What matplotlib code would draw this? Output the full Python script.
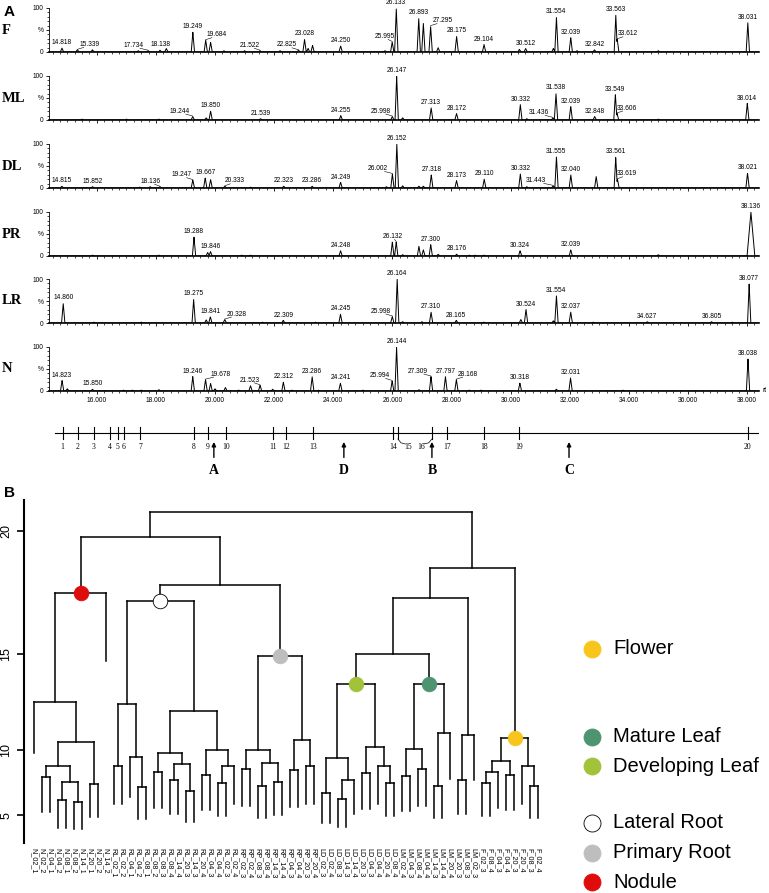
import numpy as np
import matplotlib.pyplot as plt

plt.rcParams['font.family'] = ['Liberation Sans', 'DejaVu Sans']
SERIF = ['Liberation Serif', 'DejaVu Serif']

W, H = 769, 893
fig = plt.figure(figsize=(W / 100, H / 100), dpi=100)


def px_box(x0, y0, x1, y1):
    return [x0 / W, 1 - y1 / H, (x1 - x0) / W, (y1 - y0) / H]


# ============================================================================
# DATOS - CROMATOGRAMAS (tiempo de retención, altura relativa %)
# ============================================================================
RT_MIN, RT_MAX = 14.39, 38.41

f_rt = [14.818, 15.339, 15.85, 17.40, 17.734, 18.138, 18.35, 19.249, 19.684, 19.85, 20.30, 21.0,
        21.522, 22.2, 22.825, 23.028, 23.15, 23.30, 24.250, 25.75, 25.995, 26.133, 26.893, 27.05,
        27.295, 27.55, 28.175, 29.104, 30.30, 30.512, 31.45, 31.554, 32.039, 32.25, 32.842, 33.563,
        33.612, 35.00, 38.031]
f_h = [9, 5, 5, 3, 3, 4, 8, 45, 27, 22, 3, 3, 3, 3, 4, 29, 8, 15, 14, 3, 23, 100, 77, 65, 59, 10,
       36, 17, 6, 8, 8, 79, 33, 3, 5, 84, 29, 3, 67]
f_labels = ['14.818', '15.339', '17.734', '18.138', '19.249', '19.684', '21.522', '22.825', '23.028',
            '24.250', '25.995', '26.133', '26.893', '27.295', '28.175', '29.104', '30.512', '31.554',
            '32.039', '32.842', '33.563', '33.612', '38.031']

ml_rt = [15.5, 17.0, 18.1, 19.244, 19.70, 19.850, 21.539, 24.255, 25.998, 26.147, 26.35, 27.313,
         28.172, 30.332, 30.55, 31.436, 31.538, 32.039, 32.848, 33.549, 33.606, 35.0, 38.014]
ml_h = [2, 2, 2, 8, 5, 20, 3, 10, 8, 100, 5, 28, 15, 35, 3, 5, 61, 31, 8, 58, 15, 2, 38]
ml_labels = ['19.244', '19.850', '21.539', '24.255', '25.998', '26.147', '27.313', '28.172', '30.332',
             '31.436', '31.538', '32.039', '32.848', '33.549', '33.606', '38.014']

dl_rt = [14.815, 15.852, 17.45, 17.8, 18.136, 19.247, 19.667, 19.85, 20.333, 21.2, 22.323, 23.286,
         24.249, 25.8, 26.002, 26.152, 26.35, 26.9, 27.05, 27.318, 28.173, 29.110, 30.332, 30.55,
         31.443, 31.555, 32.040, 32.90, 33.561, 33.619, 38.021]
dl_h = [4, 3, 2, 3, 3, 18, 23, 19, 4, 2, 4, 4, 13, 3, 32, 100, 5, 4, 4, 30, 17, 20, 32, 3, 5, 71,
        30, 26, 70, 20, 34]
dl_labels = ['14.815', '15.852', '18.136', '19.247', '19.667', '20.333', '22.323', '23.286', '24.249',
             '26.002', '26.152', '27.318', '28.173', '29.110', '30.332', '31.443', '31.555', '32.040',
             '33.561', '33.619', '38.021']

pr_rt = [15.85, 18.1, 19.288, 19.75, 19.846, 20.9, 21.2, 24.248, 26.0, 26.132, 26.35, 26.9, 27.05,
         27.300, 27.55, 28.176, 28.6, 28.8, 29.1, 30.324, 32.039, 35.0, 38.136]
pr_h = [2, 2, 43, 8, 10, 2, 2, 12, 32, 32, 3, 22, 14, 26, 4, 4, 2, 2, 2, 12, 14, 3, 100]
pr_labels = ['19.288', '19.846', '24.248', '26.132', '27.300', '28.176', '30.324', '32.039', '38.136']

lr_rt = [14.860, 15.9, 17.5, 19.275, 19.70, 19.841, 20.328, 21.6, 22.309, 23.4, 24.245, 25.998,
         26.164, 26.35, 27.0, 27.310, 28.165, 29.1, 30.35, 30.524, 31.45, 31.554, 32.037, 32.8,
         34.627, 36.805, 37.5, 38.077]
lr_h = [45, 2, 2, 54, 7, 14, 8, 2, 6, 2, 20, 15, 100, 3, 3, 25, 6, 2, 8, 31, 5, 62, 25, 2, 3, 3, 2, 89]
lr_labels = ['14.860', '19.275', '19.841', '20.328', '22.309', '24.245', '25.998', '26.164', '27.310',
             '28.165', '30.524', '31.554', '32.037', '34.627', '36.805', '38.077']

n_rt = [14.823, 15.0, 15.850, 16.9, 17.2, 17.5, 18.1, 19.246, 19.678, 19.85, 20.0, 20.35, 20.8, 21.2,
        21.523, 21.95, 22.312, 22.6, 23.286, 23.5, 24.241, 25.0, 25.994, 26.144, 26.9, 27.309,
        27.797, 28.168, 28.6, 29.0, 30.318, 31.55, 32.031, 33.8, 38.038]
n_h = [24, 5, 4, 2, 2, 2, 3, 33, 26, 17, 5, 8, 2, 12, 13, 4, 20, 2, 33, 2, 18, 2, 23, 100, 3, 33,
       33, 26, 2, 2, 18, 4, 30, 2, 73]
n_labels = ['14.823', '15.850', '19.246', '19.678', '21.523', '22.312', '23.286', '24.241', '25.994',
            '26.144', '27.309', '27.797', '28.168', '30.318', '32.031', '38.038']

panel_names = ['F', 'ML', 'DL', 'PR', 'LR', 'N']

# desplazamiento de etiquetas (min) donde van con línea guía
label_shift = {
    'F': {'15.339': 0.4, '17.734': -0.5, '19.684': 0.38, '21.522': -0.35, '22.825': -0.4,
          '25.995': -0.25, '27.295': 0.4, '33.612': 0.35},
    'ML': {'19.244': -0.43, '25.998': -0.4, '31.436': -0.48, '33.606': 0.35},
    'DL': {'18.136': -0.33, '19.247': -0.38, '20.333': 0.33, '26.002': -0.48, '31.443': -0.58,
           '33.619': 0.32},
    'PR': {'26.132': -0.1},
    'LR': {'20.328': 0.41, '25.998': -0.4},
    'N': {'19.678': 0.5, '21.523': -0.35, '25.994': -0.4, '27.309': -0.44, '28.168': 0.39},
}
peak_width = {'PR': {38.136: 0.13}}

# marcadores 1-20 y flechas A-D
marker_rt = [14.84, 15.36, 15.90, 16.44, 16.71, 16.91, 17.46, 19.28, 19.76, 20.36, 21.96, 22.40,
             23.31, 26.02, 26.19, 27.34, 27.85, 29.10, 30.29, 38.03]
marker_lab_shift = {15: 0.34, 16: -0.37}
arrow_rt = [19.96, 27.34, 31.98, 24.36]
arrow_lab = ['A', 'B', 'C', 'D']

# ============================================================================
# DATOS - DENDROGRAMA
# ============================================================================
leaf_labels = [
    'N_02_1', 'N_02_2', 'N_04_1', 'N_04_2', 'N_08_1', 'N_08_2', 'N_14_1', 'N_20_1', 'N_20_2', 'N_14_2',
    'RL_02_1', 'RL_02_2', 'RL_04_1', 'RL_04_2', 'RL_08_1', 'RL_08_2', 'RL_08_3', 'RL_08_4', 'RL_14_4',
    'RL_20_3', 'RL_14_3', 'RL_20_4', 'RL_04_3', 'RL_04_4', 'RL_02_3', 'RL_02_4',
    'RP_02_3', 'RP_02_4', 'RP_08_3', 'RP_08_4', 'RP_14_3', 'RP_14_4', 'RP_04_3', 'RP_04_4', 'RP_20_3',
    'RP_20_4',
    'LD_02_3', 'LD_02_4', 'LD_08_3', 'LD_14_3', 'LD_14_4', 'LD_20_3', 'LD_04_3', 'LD_04_4', 'LD_20_4',
    'LD_08_4',
    'LM_02_4', 'LM_04_3', 'LM_08_4', 'LM_04_4', 'LM_14_3', 'LM_14_4', 'LM_20_4', 'LM_20_3', 'LM_08_3',
    'LM_02_3',
    'F_02_3', 'F_08_4', 'F_04_3', 'F_04_4', 'F_20_3', 'F_20_4', 'F_08_3', 'F_02_4']

# [altura, izquierda, derecha]; hojas = índice en leaf_labels
n_tree = [17.6, [12.7, 0, [10.5, [9.0, [8.2, 1, 2], [7.9, [6.4, 3, 4], [6.3, 5, 6]]], [7.7, 7, 8]]], 9]
rl_tree = [17.3, [12.6, [9.0, 10, 11], [9.6, 12, [7.5, 13, 14]]],
           [12.2, [9.8, [8.6, 15, 16], [9.1, [8.0, 17, 18], [7.2, 19, 20]]],
            [10.0, [8.4, 21, 22], [9.0, [7.8, 23, 24], 25]]]]
rp_tree = [14.9, [10.0, [8.8, 26, 27], [9.2, [7.6, 28, 29], [7.9, 30, 31]]],
           [10.6, [8.7, 32, 33], [9.0, 34, 35]]]
ld_tree = [13.6, [9.5, [7.0, 36, 37], [8.0, [6.5, 38, 39], 40]],
           [10.2, [8.5, 41, 42], [9.0, 43, [7.8, 44, 45]]]]
lm_tree = [13.6, [10.1, [8.3, 46, 47], [8.8, 48, 49]], [11.0, [7.6, 50, 51], 52]]
lm_out = [10.9, [8.0, 53, 54], 55]
f_tree = [10.7, [9.3, [8.6, [7.8, 56, 57], 58], [8.4, 59, 60]], [9.0, 61, [7.6, 62, 63]]]
root = [20.67, [19.75, n_tree, [17.94, rl_tree, rp_tree]],
        [18.6, [17.4, [15.0, ld_tree, lm_tree], lm_out], f_tree]]

group_names = ['Flower', 'Mature Leaf', 'Developing Leaf', 'Lateral Root', 'Primary Root', 'Nodule']
group_colors = ['#F7C51B', '#4E9470', '#A2C23A', '#FFFFFF', '#BEBEBE', '#E00B0B']
group_trees = [f_tree, lm_tree, ld_tree, rl_tree, rp_tree, n_tree]
HANG = 2.9

# ============================================================================
# PANEL A - CROMATOGRAMAS
# ============================================================================
all_rt = [f_rt, ml_rt, dl_rt, pr_rt, lr_rt, n_rt]
all_h = [f_h, ml_h, dl_h, pr_h, lr_h, n_h]
all_lab = [f_labels, ml_labels, dl_labels, pr_labels, lr_labels, n_labels]
panel_top_px = [8, 76, 144, 212, 279, 347]

xg = np.linspace(RT_MIN, RT_MAX, 8000)
for k, name in enumerate(panel_names):
    y0 = panel_top_px[k]
    ax = fig.add_axes(px_box(49.3, y0, 759, y0 + 44))
    rts, hs = np.array(all_rt[k]), np.array(all_h[k])
    yg = np.zeros_like(xg)
    for rt, h in zip(rts, hs):
        w = peak_width.get(name, {}).get(rt, 0.055)
        yg = np.maximum(yg, h * np.clip(1 - np.abs(xg - rt) / w, 0, None))
    ax.plot(xg, yg, color='black', lw=0.7)

    shifts = label_shift.get(name, {})
    for lab in all_lab[k]:
        rt = float(lab)
        h = hs[np.argmin(np.abs(rts - rt))]
        dx = shifts.get(lab, 0)
        ax.text(rt + dx, h + 4, lab, fontsize=4.8, ha='center', va='bottom', clip_on=False)
        if dx:
            ax.plot([rt, rt + dx * 0.55], [h + 1, h + 5.5], color='black', lw=0.4, clip_on=False)

    ax.set_xlim(RT_MIN, RT_MAX)
    ax.set_ylim(0, 100)
    for s in ['top', 'right']:
        ax.spines[s].set_visible(False)
    ax.spines['bottom'].set_linewidth(1.2)
    ax.spines['left'].set_linewidth(0.6)
    ax.set_yticks([0, 50, 100])
    ax.set_yticklabels(['0', '%', '100'])
    ax.set_yticks(np.arange(0, 101, 10), minor=True)
    ax.set_xticks(np.arange(16, 38.1, 2))
    ax.set_xticks(np.arange(14.5, 38.41, 0.25), minor=True)
    ax.tick_params(axis='both', which='major', length=2.5, width=0.6, labelsize=4.8, pad=1.5)
    ax.tick_params(axis='both', which='minor', length=1.5, width=0.5)
    if k < 5:
        ax.tick_params(axis='x', labelbottom=False)
    else:
        ax.set_xticklabels(['%.3f' % v for v in np.arange(16, 38.1, 2)])
        ax.text(1.005, 0, 'rt', transform=ax.transAxes, fontsize=4.8, va='center', ha='left')
    ax.patch.set_alpha(0)
    fig.text(2 / W, 1 - (y0 + 22) / H, name, fontsize=10.5, fontweight='bold', family=SERIF,
             va='center', ha='left')

# franja de marcadores
axm = fig.add_axes(px_box(49.3, 420, 759, 480))
axm.set_xlim(RT_MIN, RT_MAX)
axm.set_ylim(0, 1)
axm.axis('off')
axm.plot([14.58, 38.45], [0.783, 0.783], color='black', lw=0.8)
for i, rt in enumerate(marker_rt, 1):
    axm.plot([rt, rt], [0.683, 0.883], color='black', lw=0.8)
    dx = marker_lab_shift.get(i, 0)
    axm.text(rt + dx, 0.55, str(i), fontsize=5.5, family=SERIF, ha='center', va='center')
    if dx:
        axm.plot([rt, rt + dx * 0.3, rt + dx * 0.75], [0.683, 0.62, 0.60], color='black', lw=0.5)
for rt, lab in zip(arrow_rt, arrow_lab):
    axm.annotate('', xy=(rt, 0.68), xytext=(rt, 0.33),
                 arrowprops=dict(arrowstyle='-|>', color='black', lw=1.0, mutation_scale=6))
    axm.text(rt, 0.15, lab, fontsize=10, fontweight='bold', family=SERIF, ha='center', va='center')

# ============================================================================
# PANEL B - DENDROGRAMA
# ============================================================================
axd = fig.add_axes(px_box(24, 500, 560, 843))
axd.set_yscale('function', functions=(lambda v: np.sign(v) * np.abs(v) ** 1.75,
                                      lambda v: np.sign(v) * np.abs(v) ** (1 / 1.75)))
node_pos = {}


def draw(node):
    if isinstance(node, int):
        return node, None
    h, a, b = node
    xa, ha = draw(a)
    xb, hb = draw(b)
    axd.plot([xa, xb], [h, h], color='black', lw=1.1, solid_capstyle='projecting')
    for xc, hc in ((xa, ha), (xb, hb)):
        axd.plot([xc, xc], [h, h - HANG if hc is None else hc], color='black', lw=1.1)
    node_pos[id(node)] = ((xa + xb) / 2, h)
    return (xa + xb) / 2, h


draw(root)
for tree, col in zip(group_trees, group_colors):
    x, h = node_pos[id(tree)]
    axd.scatter([x], [h], s=110, color=col, edgecolor='black' if col == '#FFFFFF' else col,
                linewidth=0.6, zorder=5)

for i, lab in enumerate(leaf_labels):
    axd.text(i, -0.015, lab, transform=axd.get_xaxis_transform(), rotation=270, fontsize=5.2,
             ha='center', va='top')

axd.set_xlim(-1.25, 65.75)
axd.set_ylim(0, 21.1)
for s in ['top', 'right', 'bottom']:
    axd.spines[s].set_visible(False)
axd.spines['left'].set_linewidth(1.5)
axd.set_xticks([])
axd.set_yticks([5, 10, 15, 20])
axd.set_yticklabels(['5', '10', '15', '20'], rotation=90, va='center', fontsize=9)
axd.tick_params(axis='y', length=5, width=1.2)
axd.patch.set_alpha(0)

# leyenda
ovl = fig.add_axes([0, 0, 1, 1])
ovl.set_xlim(0, W)
ovl.set_ylim(H, 0)
ovl.axis('off')
legend_y = [649, 737, 766, 823, 853, 882]
for name, col, y in zip(group_names, group_colors, legend_y):
    ovl.scatter([592], [y], s=150, color=col, edgecolor='black' if col == '#FFFFFF' else col,
                linewidth=0.6)
    ovl.text(613, y, name, fontsize=14.5, va='center', ha='left')

fig.text(4 / W, 1 - 12 / H, 'A', fontsize=11, fontweight='bold', va='center')
fig.text(4 / W, 1 - 493 / H, 'B', fontsize=11, fontweight='bold', va='center')

fig.savefig('out.png', dpi=100)
